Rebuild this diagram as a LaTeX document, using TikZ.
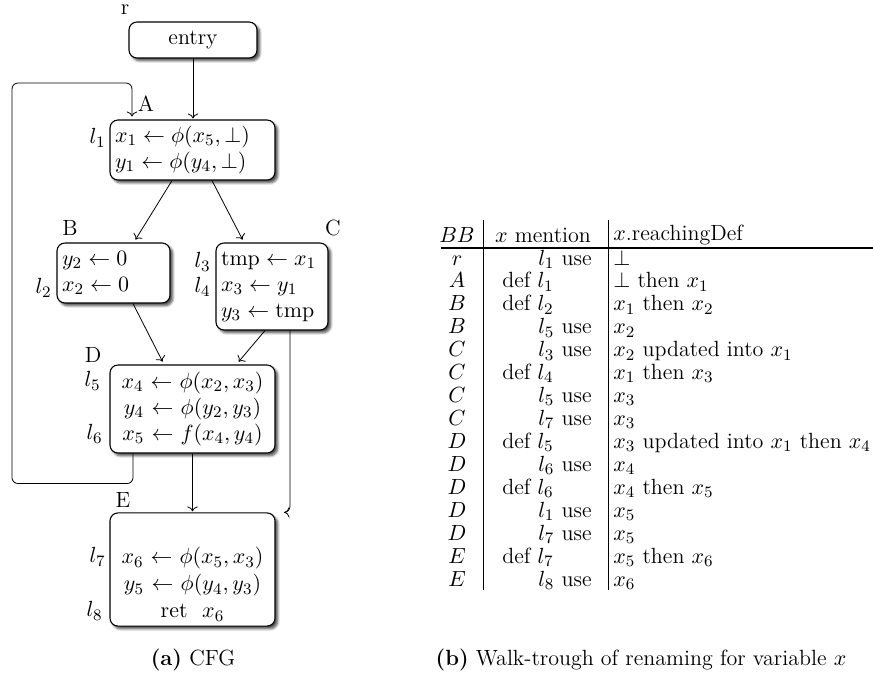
\documentclass[tikz,border=0pt]{standalone}
\usetikzlibrary{shadows,shadows.blur,arrows.meta}
\begin{document}
\begin{tikzpicture}[x=0.5pt,y=-0.5pt,
  every node/.style={font=\fontsize{11}{13}\selectfont},
  bb/.style={draw, rounded corners=4pt, fill=white, line width=0.55pt, inner sep=2.5pt,
    blur shadow={shadow xshift=1.4pt, shadow yshift=-1.4pt, shadow opacity=70,
      shadow blur steps=5, shadow blur radius=1.2pt}},
  lbl/.style={inner sep=0pt},
  arr/.style={->, line width=0.4pt, shorten >=0.5pt},
  tc/.style={inner sep=0pt}]
\useasboundingbox (0,0) rectangle (873,682);

% ---------- CFG ----------
\node[bb, minimum width=64pt, minimum height=18pt] (entry) at (193,40) {entry};
\node[bb, text width=77.5pt, minimum height=30pt, align=left] (A) at (192.5,150)
  {$x_1 \leftarrow \phi(x_5,\bot)$\\ $y_1\leftarrow \phi(y_4,\bot)$};
\node[bb, text width=51.5pt, minimum height=30pt, align=left] (B) at (113.5,273)
  {$y_2 \leftarrow 0$\\ $x_2 \leftarrow 0$};
\node[bb, text width=51pt, minimum height=43.5pt, align=left] (C) at (272,286.5)
  {$\mathrm{tmp} \leftarrow x_1$\\ $x_3 \leftarrow y_1$\\ $y_3 \leftarrow \mathrm{tmp}$};
\node[bb, text width=77.5pt, minimum height=44pt, align=center] (D) at (192.5,409)
  {$x_4 \leftarrow \phi(x_2,x_3)$\\ $y_4 \leftarrow \phi(y_2,y_3)$\\ $x_5 \leftarrow f(x_4,y_4)$};
\node[bb, text width=77.5pt, minimum height=55.5pt, align=center, font=\fontsize{11}{13.5}\selectfont] (E) at (192.5,569.5)
  {\strut\\ $x_6 \leftarrow \phi(x_5,x_3)$\\ $y_5 \leftarrow \phi(y_4,y_3)$\\ $\mathrm{ret}\ \ x_6$};

% block names
\node[lbl] (nr) at (125,10) {r};
\node[lbl] (nA) at (146,104) {A};
\node[lbl] (nB) at (70,228) {B};
\node[lbl] (nC) at (333,228) {C};
\node[lbl] (nD) at (93,355) {D};
\node[lbl] (nE) at (123,500) {E};

% line labels
\node[lbl, anchor=east] (l1) at (106,138) {$l_1$};
\node[lbl, anchor=east] (l2) at (52,288) {$l_2$};
\node[lbl, anchor=east] (l3) at (211,262) {$l_3$};
\node[lbl, anchor=east] (l4) at (211,287) {$l_4$};
\node[lbl, anchor=east] (l5) at (101,381) {$l_5$};
\node[lbl, anchor=east] (l6) at (103,434) {$l_6$};
\node[lbl, anchor=east] (l7) at (106,557) {$l_7$};
\node[lbl, anchor=east] (l8) at (103,611) {$l_8$};

% edges
\draw[arr] (entry.south) -- (entry.south |- A.north);
\draw[arr] ([xshift=-10.25pt]A.south) -- ([xshift=10.75pt,yshift=1pt]B.north);
\draw[arr] ([xshift=9.75pt]A.south) -- ([xshift=-14.5pt,yshift=1pt]C.north);
\draw[arr] ([xshift=9.75pt]B.south) -- ([xshift=-14.75pt,yshift=1pt]D.north);
\draw[arr] ([xshift=-3.5pt]C.south) -- ([xshift=22.75pt,yshift=1pt]D.north);
\draw[arr] (D.south) -- (D.south |- E.north);
\draw[arr, rounded corners=3pt] ([xshift=9pt]C.south) |- ([xshift=4pt]E.north east);
\coordinate (loopL) at (12,83);
\draw[arr, rounded corners=3pt] ([xshift=-29.75pt]D.south) -- ++(0,30) -| (loopL)
  -| ([xshift=-30.25pt,yshift=1pt]A.north);

% ---------- table ----------
\node[tc] (hBB) at (457,235) {$BB$};
\node[tc] (hM) at (543,235) {$x$ mention};
\node[tc, anchor=west] (hR) at (613,235) {$x$.reachingDef};
\draw[line width=0.6pt] (441,248) -- (873,248);
\draw[line width=0.4pt] (483,220) -- (483,590);
\draw[line width=0.4pt] (608,220) -- (608,590);

\foreach \b/\anc/\xx/\m/\r [count=\i] in {
  r/base east/592/{$l_1$ use}/{$\bot$},
  A/base west/502/{def $l_1$}/{$\bot$ then $x_1$},
  B/base west/502/{def $l_2$}/{$x_1$ then $x_2$},
  B/base east/592/{$l_5$ use}/{$x_2$},
  C/base east/592/{$l_3$ use}/{$x_2$ updated into $x_1$},
  C/base west/502/{def $l_4$}/{$x_1$ then $x_3$},
  C/base east/592/{$l_5$ use}/{$x_3$},
  C/base east/592/{$l_7$ use}/{$x_3$},
  D/base west/502/{def $l_5$}/{$x_3$ updated into $x_1$ then $x_4$},
  D/base east/592/{$l_6$ use}/{$x_4$},
  D/base west/502/{def $l_6$}/{$x_4$ then $x_5$},
  D/base east/592/{$l_1$ use}/{$x_5$},
  D/base east/592/{$l_7$ use}/{$x_5$},
  E/base west/502/{def $l_7$}/{$x_5$ then $x_6$},
  E/base east/592/{$l_8$ use}/{$x_6$}} {
  \pgfmathsetmacro\yy{265+(\i-1)*22.93}
  \node[tc, anchor=base] (bb\i) at (457,\yy) {$\b$};
  \node[tc, anchor=\anc] (mn\i) at (\xx,\yy) {\m};
  \node[tc, anchor=base west] (rd\i) at (613,\yy) {\r};
}

% captions
\node (capA) at (193,660) {\textbf{(a)} CFG};
\node (capB) at (641,660) {\textbf{(b)} Walk-trough of renaming for variable $x$};
\end{tikzpicture}
\end{document}
